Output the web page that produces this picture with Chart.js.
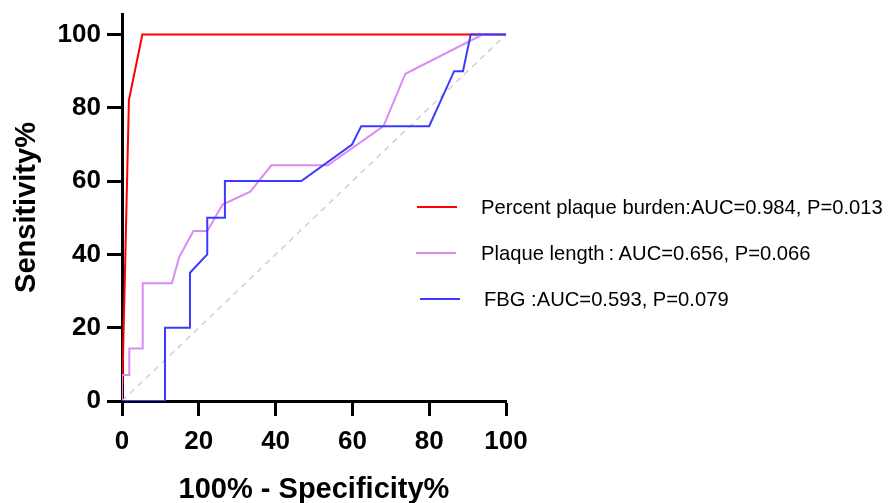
<!DOCTYPE html>
<html>
<head>
<meta charset="utf-8">
<script src="https://cdn.jsdelivr.net/npm/chart.js@4.4.1/dist/chart.umd.min.js"></script>
<style>
  html, body { margin: 0; padding: 0; background: #fff; }
  #wrap { position: relative; width: 889px; height: 503px; }
  #roc { display: block; }
  .legend-row { position: absolute; left: 0; height: 24px; font-family: "Liberation Sans", Arial, sans-serif; font-size: 20.2px; color: #000; white-space: nowrap; }
  .legend-row .swatch { position: absolute; top: 11px; width: 40px; height: 2px; }
  .legend-row .label { position: absolute; top: 0; line-height: 24px; }
</style>
</head>
<body>
<div id="wrap">
  <canvas id="roc" width="889" height="503"></canvas>
  <div id="legend"></div>
</div>
<script>
/* ---------- ROC curve data (x = 100% - specificity, y = sensitivity) ---------- */
const burdenX = [0, 1.8, 5.3, 100];
const burdenY = [0, 82.1, 100, 100];

const lengthX = [0, 0, 1.9, 1.9, 5.4, 5.4, 13, 14.9, 18.6, 22.2, 26.2, 33.4, 38.9, 53.6, 68.1, 73.8, 93.9, 100];
const lengthY = [0, 7.1, 7.1, 14.3, 14.3, 32.1, 32.1, 39.3, 46.4, 46.4, 53.6, 57.1, 64.3, 64.3, 75, 89.3, 100, 100];

const fbgX = [0, 11.2, 11.2, 17.7, 17.7, 22.2, 22.2, 26.8, 26.8, 46.7, 59.9, 62.3, 80, 86.5, 88.8, 90.8, 100];
const fbgY = [0, 0, 20, 20, 35, 40, 50, 50, 60, 60, 70, 75, 75, 90, 90, 100, 100];

const refX = [0, 100];
const refY = [0, 100];

const seriesNames = [
  'Percent plaque burden:AUC=0.984, P=0.013',
  'Plaque length\u2009: AUC=0.656, P=0.066',
  'FBG :AUC=0.593, P=0.079'
];
const seriesColors = ['#ff0000', '#d98cf4', '#3b3bff'];

const xTicks = [0, 20, 40, 60, 80, 100];
const yTicks = [0, 20, 40, 60, 80, 100];

function toPoints(xs, ys) {
  return xs.map((x, i) => ({ x, y: ys[i] }));
}

function rocLine(label, xs, ys, color, order) {
  return {
    label,
    data: toPoints(xs, ys),
    showLine: true,
    borderColor: color,
    backgroundColor: color,
    borderWidth: 2,
    pointRadius: 0,
    tension: 0,
    order
  };
}

// drop the automatic label padding so the plot box sits where the layout padding says
function fixScale(size) {
  return s => {
    if (s.isHorizontal()) s.height = size; else s.width = size;
    s.paddingTop = 0; s.paddingBottom = 0; s.paddingLeft = 0; s.paddingRight = 0;
  };
}

const axisFont = { family: '"Liberation Sans", Arial, sans-serif', size: 26, weight: 'bold' };
const titleFont = { family: '"Liberation Sans", Arial, sans-serif', size: 29, weight: 'bold', lineHeight: 0.9 };

new Chart(document.getElementById('roc'), {
  type: 'scatter',
  data: {
    datasets: [
      rocLine(seriesNames[2], fbgX, fbgY, seriesColors[2], 1),
      rocLine(seriesNames[1], lengthX, lengthY, seriesColors[1], 2),
      rocLine(seriesNames[0], burdenX, burdenY, seriesColors[0], 3),
      {
        label: 'reference',
        data: toPoints(refX, refY),
        showLine: true,
        borderColor: '#cfcfcf',
        borderWidth: 1.5,
        borderDash: [6, 5],
        pointRadius: 0,
        order: 4
      }
    ]
  },
  options: {
    responsive: false,
    animation: false,
    layout: { padding: { left: 0, top: 14, right: 383, bottom: 0 } },
    plugins: {
      legend: { display: false },
      tooltip: { enabled: false }
    },
    scales: {
      x: {
        type: 'linear',
        min: 0,
        max: 100,
        afterFit: fixScale(102),
        afterBuildTicks: s => { s.ticks = xTicks.map(v => ({ value: v })); },
        ticks: { color: '#000', font: axisFont, padding: 10, maxRotation: 0 },
        grid: { drawOnChartArea: false, tickLength: 15, tickWidth: 3, tickColor: '#000' },
        border: { color: '#000', width: 3 },
        title: { display: true, text: '100% - Specificity%', color: '#000', font: titleFont, padding: { top: 4, bottom: 0 } }
      },
      y: {
        type: 'linear',
        min: 0,
        max: 105.6,
        afterFit: fixScale(122),
        afterBuildTicks: s => { s.ticks = yTicks.map(v => ({ value: v })); },
        ticks: { color: '#000', font: axisFont, padding: 6 },
        grid: { drawOnChartArea: false, tickLength: 15, tickWidth: 3, tickColor: '#000' },
        border: { color: '#000', width: 3 },
        title: { display: true, text: 'Sensitivity%', color: '#000', font: titleFont, padding: { top: 14, bottom: 0 } }
      }
    }
  }
});

/* ---------- legend on the right ---------- */
const legendSpots = [
  { lineX: 417, textX: 481, y: 195 },
  { lineX: 416, textX: 481, y: 241 },
  { lineX: 420, textX: 484, y: 287 }
];
document.getElementById('legend').innerHTML = seriesNames.map((name, i) => `
  <div class="legend-row" style="top:${legendSpots[i].y}px">
    <div class="swatch" style="left:${legendSpots[i].lineX}px;background:${seriesColors[i]}"></div>
    <div class="label" style="left:${legendSpots[i].textX}px">${name}</div>
  </div>`).join('');
</script>
</body>
</html>
